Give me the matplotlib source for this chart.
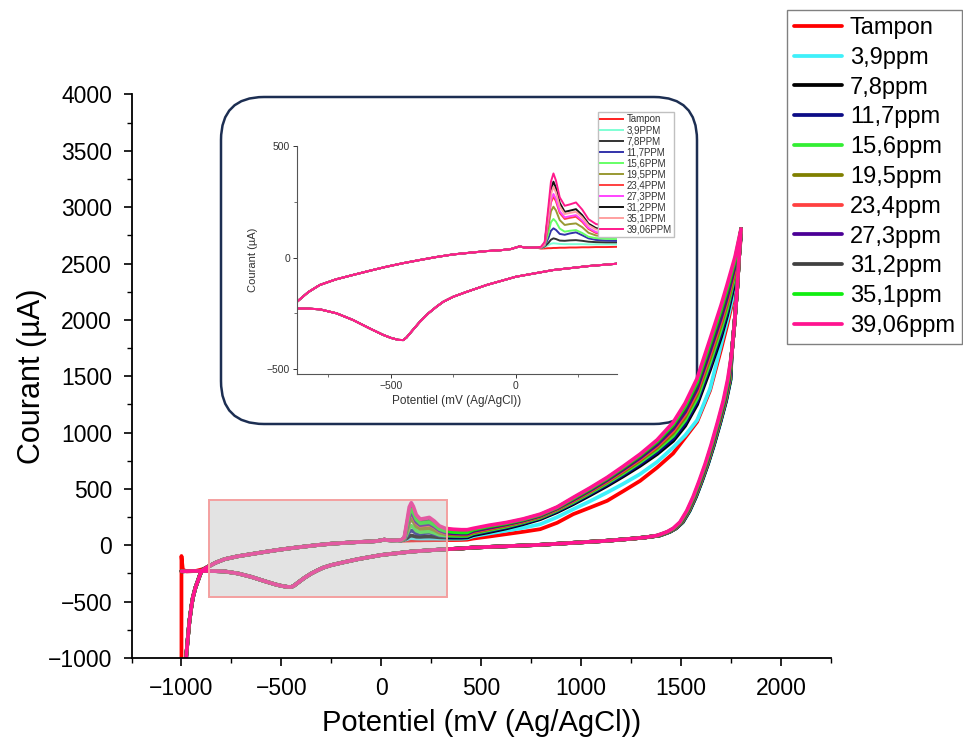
import numpy as np
import matplotlib
matplotlib.use('Agg')
import matplotlib.pyplot as plt
from matplotlib.patches import FancyBboxPatch, Rectangle
from matplotlib.ticker import MultipleLocator

plt.rcParams['font.family'] = ['Liberation Sans', 'DejaVu Sans']

# ---------------- data ----------------
labels_main = ['Tampon', '3,9ppm', '7,8ppm', '11,7ppm', '15,6ppm', '19,5ppm',
               '23,4ppm', '27,3ppm', '31,2ppm', '35,1ppm', '39,06ppm']
labels_inset = ['Tampon', '3,9PPM', '7,8PPM', '11,7PPM', '15,6PPM', '19,5PPM',
                '23,4PPM', '27,3PPM', '31,2PPM', '35,1PPM', '39,06PPM']
colors_main = ['#ff0000', '#3ff0fa', '#000000', '#0c0c86', '#33ee33', '#808000',
               '#ff4040', '#4b0096', '#404040', '#11ee11', '#ff1490']
colors_inset = ['#ff2020', '#7fffd4', '#333333', '#3333aa', '#66ff66', '#999933',
                '#ff4040', '#ff44ff', '#111111', '#ffa0a0', '#ff1a8c']

# start of the anodic scan (mV, uA)
E_start_cv = [-990, -983, -977, -968, -960, -950, -943, -930, -918, -908, -901, -890]
I_start_cv = [-1300, -1130, -1000, -820, -670, -540, -464, -375, -316, -265, -235, -215]
E_start_tampon = [-1000, -1000, -997, -993, -975, -930, -900]
I_start_tampon = [-1300, -95, -150, -215, -232, -228, -215]

# shared part of the anodic scan
E_fwd_mid = [-877, -830, -784, -720, -651, -580, -517, -450, -384, -320, -251, -180,
             -117, -60, -20, 0, 15, 30, 50, 80]
I_fwd_mid = [-200, -155, -123, -98, -78, -58, -41, -25, -11, 2, 14, 22,
             29, 33, 38, 45, 50, 46, 44, 45]

# oxidation peak region
E_peak = [100, 115, 130, 140, 150, 160, 175, 195, 215, 240, 265, 290, 320, 360, 400]
peak_tampon = [40, 41, 42, 42, 43, 43, 44, 44, 45, 45, 46, 46, 47, 47, 48]
peak_3_9 = [42, 48, 56, 62, 64, 63, 61, 60, 60, 60, 60, 59, 59, 59, 59]
peak_7_8 = [43, 50, 66, 80, 86, 83, 76, 75, 77, 78, 75, 71, 69, 68, 68]
peak_11_7 = [43, 52, 88, 120, 131, 124, 106, 102, 108, 113, 100, 86, 79, 76, 75]
peak_15_6 = [44, 54, 110, 158, 173, 161, 130, 116, 120, 123, 110, 93, 87, 84, 83]
peak_19_5 = [44, 57, 140, 207, 228, 211, 168, 146, 150, 153, 136, 111, 99, 95, 93]
peak_23_4 = [45, 60, 165, 247, 273, 252, 200, 173, 178, 183, 160, 128, 110, 104, 101]
peak_27_3 = [45, 60, 172, 258, 285, 263, 208, 180, 185, 190, 166, 133, 114, 107, 104]
peak_31_2 = [46, 65, 205, 305, 340, 312, 245, 205, 210, 217, 190, 152, 132, 124, 120]
peak_35_1 = [46, 63, 190, 285, 317, 292, 230, 195, 200, 205, 180, 145, 126, 118, 114]
peak_39_06 = [48, 70, 230, 340, 377, 345, 270, 232, 238, 247, 215, 172, 150, 142, 138]

# high-potential anodic region
E_high = [430, 460, 540, 625, 710, 795, 880, 960, 1045, 1130, 1210, 1295, 1380,
          1460, 1520, 1580, 1645, 1700, 1730, 1770, 1800]
high_tampon = [50, 60, 78, 99, 120, 143, 200, 276, 335, 395, 480, 572, 690,
               815, 955, 1095, 1375, 1740, 1950, 2260, 2740]
high_3_9 = [62, 80, 105, 130, 155, 187, 250, 320, 392, 469, 545, 632, 740,
            868, 975, 1110, 1390, 1780, 1990, 2290, 2750]
high_7_8 = [70, 90, 118, 150, 188, 232, 295, 365, 445, 528, 612, 706, 810,
            927, 1060, 1250, 1560, 1850, 2040, 2350, 2765]
high_11_7 = [77, 98, 126, 158, 196, 240, 304, 375, 456, 540, 625, 722, 828,
             948, 1083, 1275, 1590, 1880, 2065, 2375, 2770]
high_15_6 = [84, 106, 135, 166, 204, 246, 312, 383, 466, 552, 639, 738, 848,
             972, 1110, 1305, 1625, 1920, 2100, 2405, 2775]
high_19_5 = [93, 114, 143, 174, 210, 252, 318, 392, 475, 562, 652, 753, 866,
             996, 1138, 1340, 1665, 1960, 2140, 2435, 2780]
high_23_4 = [100, 121, 150, 180, 215, 257, 323, 398, 482, 570, 663, 765, 880,
             1015, 1160, 1365, 1695, 1990, 2170, 2460, 2785]
high_27_3 = [104, 127, 156, 186, 220, 262, 328, 404, 489, 579, 673, 777, 895,
             1035, 1185, 1392, 1727, 2022, 2202, 2485, 2790]
high_31_2 = [118, 135, 162, 190, 224, 266, 332, 410, 496, 587, 683, 789, 910,
             1053, 1210, 1420, 1762, 2060, 2240, 2510, 2795]
high_35_1 = [114, 140, 170, 196, 229, 271, 336, 417, 503, 595, 692, 800, 923,
             1072, 1235, 1450, 1796, 2095, 2275, 2535, 2800]
high_39_06 = [138, 150, 178, 202, 234, 276, 340, 424, 510, 602, 700, 809, 935,
              1090, 1260, 1480, 1830, 2130, 2310, 2560, 2807]

# cathodic (return) scan, shared
E_rev = [1800, 1790, 1781, 1768, 1753, 1733, 1711, 1682, 1650, 1620, 1590, 1560,
         1528, 1494, 1460, 1430, 1400, 1377, 1320, 1250, 1127, 960, 793, 600, 459,
         400, 292, 149, 0, -117, -200, -251, -290, -317, -350, -384, -410, -437,
         -450, -470, -500, -530, -584, -651, -717, -784, -830, -877, -950, -1000]
I_rev = [2807, 2560, 2289, 1990, 1697, 1470, 1283, 1090, 890, 720, 570, 430,
         305, 205, 150, 120, 100, 86, 70, 58, 40, 22, 4, -10, -20,
         -28, -38, -56, -86, -123, -155, -176, -198, -220, -250, -288, -322, -358,
         -370, -369, -360, -347, -318, -280, -250, -232, -229, -228, -228, -230]
# horizontal offset of each return scan at high potential (mV)
rev_shift = [13, 15, 14, 13, 11, 10, 8, 7, 5, 3, 0]

peaks = [peak_tampon, peak_3_9, peak_7_8, peak_11_7, peak_15_6, peak_19_5,
         peak_23_4, peak_27_3, peak_31_2, peak_35_1, peak_39_06]
highs = [high_tampon, high_3_9, high_7_8, high_11_7, high_15_6, high_19_5,
         high_23_4, high_27_3, high_31_2, high_35_1, high_39_06]

# shaded zoom region (data coords)
zoom_x = (-860, 330)
zoom_y = (-460, 400)


def series(i):
    if i == 0:
        Es, Is = E_start_tampon, I_start_tampon
    else:
        Es, Is = E_start_cv, I_start_cv
    er = np.array(E_rev, dtype=float)
    mask = (er > 1350) & (er < 1745)
    er[mask] += rev_shift[i]
    E = np.concatenate([Es, E_fwd_mid, E_peak, E_high, er])
    I = np.concatenate([Is, I_fwd_mid, peaks[i], highs[i], I_rev])
    return E, I


# ---------------- figure ----------------
W, H = 963, 747
fig = plt.figure(figsize=(W / 100, H / 100), dpi=100, facecolor='white')

# inset frame (below the main curves)
box = FancyBboxPatch((2.21, (H - 424) / 100), 4.76, 3.27,
                     boxstyle='round,pad=0,rounding_size=0.43',
                     transform=fig.dpi_scale_trans, facecolor='white',
                     edgecolor='#1c2e52', lw=1.8, zorder=0.5)
fig.add_artist(box)

ax_l, ax_r, ax_b, ax_t = 131.5, 831, 658, 94.5
ax = fig.add_axes([ax_l / W, (H - ax_b) / H, (ax_r - ax_l) / W, (ax_b - ax_t) / H], zorder=1)
ax.patch.set_alpha(0)

handles = []
for i in range(len(labels_main)):
    E, I = series(i)
    ln, = ax.plot(E, I, color=colors_main[i], lw=2.7, solid_joinstyle='round',
                  solid_capstyle='round', zorder=2)
    handles.append(ln)

ax.add_patch(Rectangle((zoom_x[0], zoom_y[0]), zoom_x[1] - zoom_x[0], zoom_y[1] - zoom_y[0],
                       facecolor='#bdbdbd', alpha=0.42, edgecolor='none', zorder=5))
ax.add_patch(Rectangle((zoom_x[0], zoom_y[0]), zoom_x[1] - zoom_x[0], zoom_y[1] - zoom_y[0],
                       facecolor='none', edgecolor='#f4a0a0', lw=1.4, zorder=6))

ax.set_xlim(-1250, 2250)
ax.set_ylim(-1000, 4000)
ax.xaxis.set_major_locator(MultipleLocator(500))
ax.xaxis.set_minor_locator(MultipleLocator(250))
ax.yaxis.set_major_locator(MultipleLocator(500))
ax.yaxis.set_minor_locator(MultipleLocator(250))
for s in ['top', 'right']:
    ax.spines[s].set_visible(False)
for s in ['left', 'bottom']:
    ax.spines[s].set_linewidth(1.3)
ax.tick_params(which='major', direction='out', length=6, width=1.2, labelsize=16.5)
ax.tick_params(axis='x', which='major', pad=8)
ax.tick_params(axis='y', which='major', pad=8)
ax.tick_params(which='minor', direction='out', length=3.5, width=1.0)
ax.set_xlabel('Potentiel (mV (Ag/AgCl))', fontsize=21)
ax.set_ylabel('Courant (µA)', fontsize=22)
ax.yaxis.set_label_coords((47 - ax_l) / (ax_r - ax_l), 0.5)
ax.xaxis.set_label_coords(0.5, -(709 - ax_b) / (ax_b - ax_t))

fig.legend(handles, labels_main, loc='upper right',
           bbox_to_anchor=(962 / W, (H - 10) / H), bbox_transform=fig.transFigure,
           fontsize=17, frameon=True, fancybox=False, edgecolor='#808080',
           framealpha=1, handlelength=2.0, handletextpad=0.35, labelspacing=0.33,
           borderpad=0.3, borderaxespad=0)

# ---------------- inset ----------------
in_l, in_r, in_b, in_t = 297, 617, 374, 146
ax_in = fig.add_axes([in_l / W, (H - in_b) / H, (in_r - in_l) / W, (in_b - in_t) / H], zorder=3)
ax_in.patch.set_alpha(0)
in_handles = []
for i in range(len(labels_inset)):
    E, I = series(i)
    ln, = ax_in.plot(E, I, color=colors_inset[i], lw=1.4, zorder=2)
    in_handles.append(ln)
ax_in.set_xlim(-875, 404)
ax_in.set_ylim(-522, 500)
ax_in.xaxis.set_major_locator(MultipleLocator(500))
ax_in.xaxis.set_minor_locator(MultipleLocator(250))
ax_in.yaxis.set_major_locator(MultipleLocator(500))
ax_in.yaxis.set_minor_locator(MultipleLocator(250))
for s in ['top', 'right']:
    ax_in.spines[s].set_visible(False)
for s in ['left', 'bottom']:
    ax_in.spines[s].set_linewidth(0.8)
    ax_in.spines[s].set_color('#555555')
ax_in.tick_params(which='major', direction='out', length=3, width=0.7, labelsize=7.5,
                  colors='#333333', pad=2)
ax_in.tick_params(which='minor', direction='out', length=2, width=0.6, colors='#555555')
ax_in.set_xlabel('Potentiel (mV (Ag/AgCl))', fontsize=8.5, color='#333333', labelpad=3)
ax_in.set_ylabel('Courant (µA)', fontsize=8, color='#333333', labelpad=6)

leg_in = ax_in.legend(in_handles, labels_inset, loc='upper right',
                      bbox_to_anchor=(674 / W, (H - 112) / H), bbox_transform=fig.transFigure,
                      fontsize=7, frameon=True, fancybox=False, edgecolor='#c0c0c0',
                      framealpha=1, handlelength=2.3, handletextpad=0.4, labelspacing=0.1,
                      borderpad=0.25, borderaxespad=0)
for t in leg_in.get_texts():
    t.set_color('#333333')

fig.savefig('out.png', dpi=100)
